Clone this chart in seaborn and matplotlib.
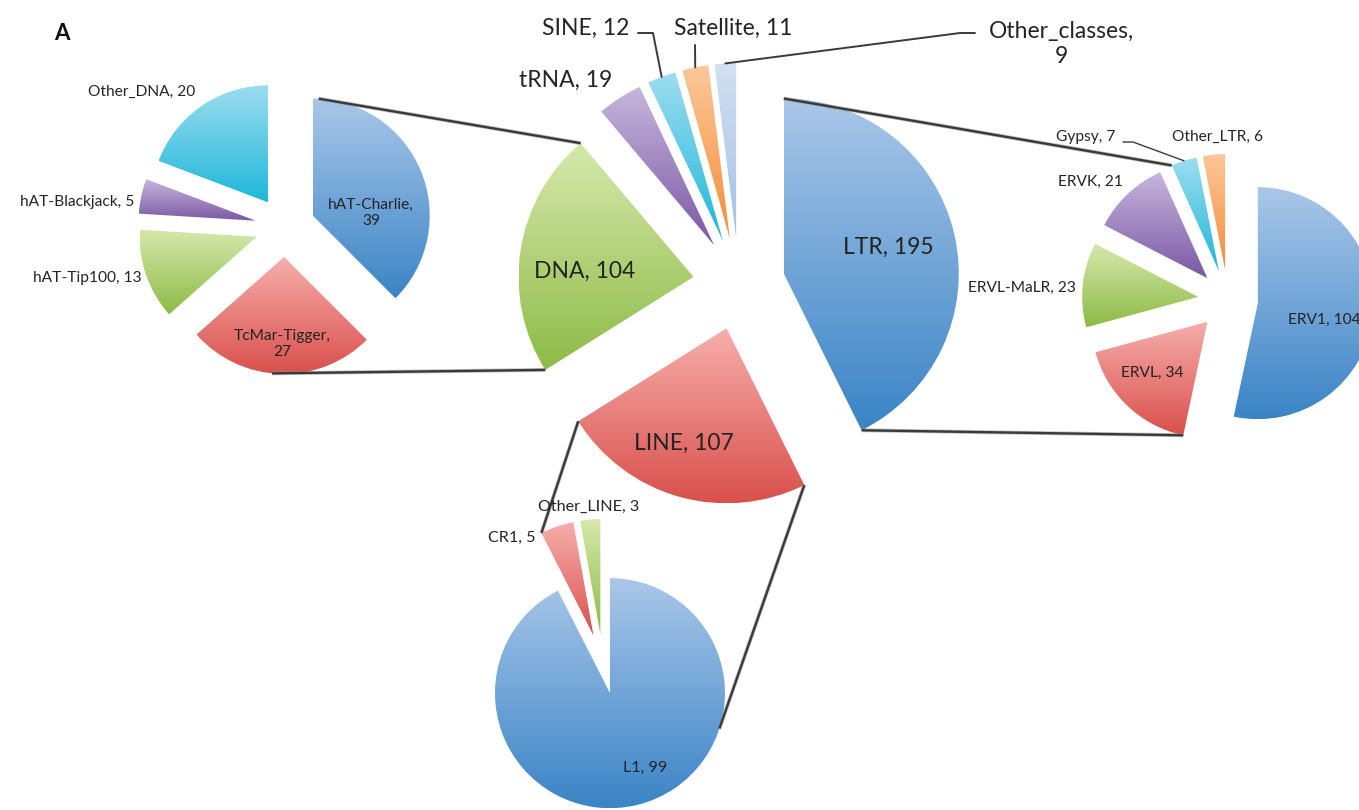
import numpy as np
import matplotlib
matplotlib.use("Agg")
import matplotlib.pyplot as plt
from matplotlib.colors import LinearSegmentedColormap
import seaborn as sns

# ---------------------------------------------------------------- data
classes = ["LTR", "LINE", "DNA", "tRNA", "SINE", "Satellite", "Other_classes"]
class_counts = [195, 107, 104, 19, 12, 11, 9]

dna_families = ["hAT-Charlie", "TcMar-Tigger", "hAT-Tip100", "hAT-Blackjack", "Other_DNA"]
dna_counts = [39, 27, 13, 5, 20]

ltr_families = ["ERV1", "ERVL", "ERVL-MaLR", "ERVK", "Gypsy", "Other_LTR"]
ltr_counts = [104, 34, 23, 21, 7, 6]

line_families = ["L1", "CR1", "Other_LINE"]
line_counts = [99, 5, 3]

# ---------------------------------------------------------------- style
sns.set_theme(style="white")
plt.rcParams["font.family"] = ["Lato", "DejaVu Sans"]
TEXT = "#242424"
LINE_C = "#3a3a3a"

# office-like palette: (light top, dark bottom) for each slice colour
base_colors = sns.color_palette(["#4F81BD", "#C0504D", "#9BBB59", "#8064A2",
                                 "#4BACC6", "#F79646", "#B9CDE5"])
gradients = [("#AAC7E9", "#3A84C6"), ("#F7AEAB", "#D9504C"),
             ("#D6E8AC", "#8DBB47"), ("#C7B6DD", "#7A58A5"),
             ("#9EDDF0", "#1DB7D9"), ("#FCC79A", "#F68C38"),
             ("#D2E0F2", "#A3C1E5")]

W, H = 1359, 810
fig = plt.figure(figsize=(W / 100, H / 100), dpi=100)
ax = fig.add_axes([0, 0, 1, 1])

# pie placement on the canvas (y grows downward)
layout = {
    "main": dict(center=(739, 284), radius=175, explode=46),
    "dna": dict(center=(285, 227), radius=117, explode=30),
    "ltr": dict(center=(1228, 300), radius=116, explode=30),
    "line": dict(center=(603, 664), radius=115, explode=30),
}


def gradient_fill(wedge, light, dark):
    x0, y0, x1, y1 = wedge.get_path().get_extents(wedge.get_patch_transform()).extents
    cmap = LinearSegmentedColormap.from_list("", [light, dark])
    grad = np.linspace(0, 1, 256).reshape(-1, 1)
    im = ax.imshow(grad, cmap=cmap, extent=(x0, x1, y1, y0), origin="upper",
                   aspect="auto", interpolation="bilinear", zorder=wedge.get_zorder())
    im.set_clip_path(wedge)
    wedge.set_facecolor("none")


def draw_pie(counts, center, radius, explode):
    n = len(counts)
    wedges, _ = ax.pie(counts, center=center, radius=radius,
                       explode=[explode] * n, startangle=-90, counterclock=True,
                       colors=base_colors[:n], wedgeprops=dict(linewidth=0))
    for w, (lo, hi) in zip(wedges, gradients[:n]):
        gradient_fill(w, lo, hi)
    return wedges


def rim(w, frac):
    """Point on the outer arc of a wedge, frac 0 = first edge, 1 = second edge."""
    t = np.deg2rad(w.theta1 + frac * (w.theta2 - w.theta1))
    cx, cy = w.center
    return cx + w.r * np.cos(t), cy + w.r * np.sin(t)


main_w = draw_pie(class_counts, **layout["main"])
dna_w = draw_pie(dna_counts, **layout["dna"])
ltr_w = draw_pie(ltr_counts, **layout["ltr"])
line_w = draw_pie(line_counts, **layout["line"])


def connect(p, q):
    ax.plot([p[0], q[0]], [p[1], q[1]], color="#9a9a9a", lw=2.8, zorder=1,
            solid_capstyle="butt", alpha=0.6)
    ax.plot([p[0], q[0]], [p[1], q[1]], color=LINE_C, lw=1.7, zorder=2,
            solid_capstyle="butt")


# lines tying each class slice to its family breakdown
connect(rim(dna_w[0], 0.022), rim(main_w[2], 1.0))
connect(rim(dna_w[1], 0.545), rim(main_w[2], 0.0))
connect(rim(main_w[0], 0.0), rim(ltr_w[4], 0.0))
connect(rim(main_w[0], 1.0), rim(ltr_w[1], 0.0))
connect(rim(main_w[1], 1.0), rim(line_w[1], 0.0))
connect(rim(main_w[1], 0.0), rim(line_w[0], 0.324))


def leader(points, w, lw=1.4):
    end = rim(w, 0.5)
    xs = [p[0] for p in points] + [end[0]]
    ys = [p[1] for p in points] + [end[1]]
    ax.plot(xs, ys, color=LINE_C, lw=lw, zorder=3)


leader([(638, 33), (653, 33)], main_w[4])
leader([(695, 45)], main_w[5])
leader([(975, 33), (960, 33)], main_w[6])
leader([(1123, 142), (1133, 142)], ltr_w[4], lw=1.0)


def label(names, counts, positions, size):
    for name, cnt, pos in zip(names, counts, positions):
        x, y, ha, sep = pos
        ax.text(x, y, f"{name},{sep}{cnt}", ha=ha, va="center", fontsize=size,
                color=TEXT, linespacing=1.25, zorder=5)


label(classes, class_counts,
      [(888, 247, "center", " "), (684, 443, "center", " "),
       (585, 271, "center", " "), (566, 80, "center", " "),
       (586, 28, "center", " "), (733, 28, "center", " "),
       (1061, 44, "center", "\n")], 16.5)
label(dna_families, dna_counts,
      [(371, 213, "center", "\n"), (282, 344, "center", "\n"),
       (87, 278, "center", " "), (77, 202, "center", " "),
       (142, 92, "center", " ")], 11.2)
label(ltr_families, ltr_counts,
      [(1288, 320, "left", " "), (1152, 373, "center", " "),
       (1022, 288, "center", " "), (1090, 182, "center", " "),
       (1086, 137, "center", " "), (1218, 137, "center", " ")], 11.2)
label(line_families, line_counts,
      [(645, 768, "center", " "), (512, 538, "center", " "),
       (589, 507, "center", " ")], 11.6)

ax.text(62, 33, "A", ha="center", va="center", fontsize=16, fontweight="bold",
        color="#111111")

ax.set_xlim(0, W)
ax.set_ylim(H, 0)
ax.set_aspect("equal")
ax.set_axis_off()
fig.savefig("out.png", dpi=100, facecolor="white")
